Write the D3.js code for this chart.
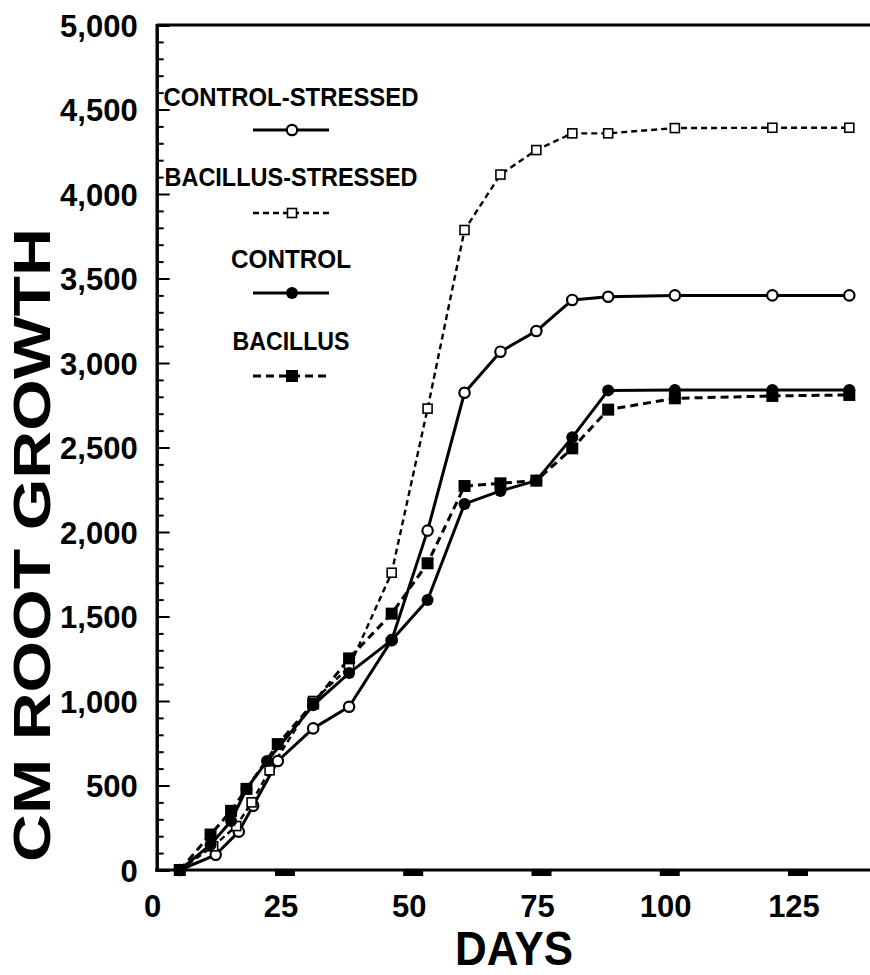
<!DOCTYPE html>
<html>
<head>
<meta charset="utf-8">
<script src="https://cdn.jsdelivr.net/npm/d3@7"></script>
<style>
  html, body { margin: 0; padding: 0; background: #fff; }
  svg text { font-family: "Liberation Sans", Arial, Helvetica, sans-serif; font-weight: bold; fill: #000; }
</style>
</head>
<body>
<svg id="chart" width="870" height="975"></svg>
<script>
// ---- data ----
const seriesNames = ["CONTROL-STRESSED", "BACILLUS-STRESSED", "CONTROL", "BACILLUS"];

const controlStressedDays = [4.5, 11.5, 16, 18.8, 23.6, 30.5, 37.5, 45.8, 52.8, 60, 67, 74, 81, 88, 101, 120, 135];
const controlStressedVals = [0, 90, 227, 380, 645, 838, 966, 1360, 2008, 2824, 3067, 3189, 3373, 3392, 3400, 3400, 3400];

const bacillusStressedDays = [4.5, 11, 15.5, 18.5, 22, 30.5, 37.5, 45.8, 52.8, 60, 67, 74, 81, 88, 101, 120, 135];
const bacillusStressedVals = [0, 140, 260, 400, 590, 1000, 1200, 1759, 2730, 3787, 4115, 4260, 4359, 4359, 4390, 4392, 4392];

const controlDays = [4.5, 10.5, 14.5, 17.5, 21.5, 30.5, 37.5, 45.8, 52.8, 60, 67, 74, 81, 88, 101, 120, 135];
const controlVals = [0, 150, 290, 480, 645, 975, 1165, 1360, 1598, 2166, 2243, 2304, 2560, 2838, 2840, 2840, 2840];

const bacillusDays = [4.5, 10.5, 14.5, 17.5, 23.6, 30.5, 37.5, 45.8, 52.8, 60, 67, 74, 81, 88, 101, 120, 135];
const bacillusVals = [0, 210, 350, 480, 745, 985, 1252, 1517, 1815, 2272, 2288, 2304, 2495, 2724, 2791, 2805, 2811];

const xTickValues = [0, 25, 50, 75, 100, 125];
const yMajorTicks = [0, 500, 1000, 1500, 2000, 2500, 3000, 3500, 4000, 4500, 5000];

// ---- setup ----
const svg = d3.select("#chart");
const x = d3.scaleLinear().domain([0, 125]).range([156.7, 798]);
const y = d3.scaleLinear().domain([0, 5000]).range([870, 25]);
const xRight = 870;

const series = [
  {name: seriesNames[0], days: controlStressedDays, vals: controlStressedVals, dash: null, width: 3, marker: "openCircle"},
  {name: seriesNames[1], days: bacillusStressedDays, vals: bacillusStressedVals, dash: "6,4", width: 2.4, marker: "openSquare"},
  {name: seriesNames[2], days: controlDays, vals: controlVals, dash: null, width: 3, marker: "filledCircle"},
  {name: seriesNames[3], days: bacillusDays, vals: bacillusVals, dash: "8,5", width: 3, marker: "filledSquare"}
];

function drawMarker(g, type, cx, cy) {
  if (type === "openCircle") {
    g.append("circle").attr("cx", cx).attr("cy", cy).attr("r", 5.2)
      .attr("fill", "#fff").attr("stroke", "#000").attr("stroke-width", 2.2);
  } else if (type === "filledCircle") {
    g.append("circle").attr("cx", cx).attr("cy", cy).attr("r", 6)
      .attr("fill", "#000");
  } else if (type === "openSquare") {
    g.append("rect").attr("x", cx - 4.5).attr("y", cy - 4.5).attr("width", 9).attr("height", 9)
      .attr("fill", "#fff").attr("stroke", "#000").attr("stroke-width", 1.6);
  } else if (type === "filledSquare") {
    g.append("rect").attr("x", cx - 6).attr("y", cy - 6).attr("width", 12).attr("height", 12)
      .attr("fill", "#000");
  }
}

// ---- frame lines ----
svg.append("line").attr("x1", x(0)).attr("x2", xRight).attr("y1", y(5000)).attr("y2", y(5000))
  .attr("stroke", "#000").attr("stroke-width", 3);
svg.append("line").attr("x1", x(0) - 1.5).attr("x2", xRight).attr("y1", y(0)).attr("y2", y(0))
  .attr("stroke", "#000").attr("stroke-width", 3);

// ---- y axis ----
const yMinor = d3.range(0, 5001, 100).filter(v => v % 500 !== 0);
const yAxisMinor = svg.append("g").attr("transform", `translate(${x(0)},0)`)
  .call(d3.axisLeft(y).tickValues(yMinor).tickSize(-7).tickFormat(""));
const yAxisMajor = svg.append("g").attr("transform", `translate(${x(0)},0)`)
  .call(d3.axisLeft(y).tickValues(yMajorTicks).tickSize(-13).tickPadding(19).tickFormat(d3.format(",")));
[yAxisMinor, yAxisMajor].forEach(g => {
  g.selectAll(".domain").attr("stroke", "#000").attr("stroke-width", 3);
  g.selectAll(".tick line").attr("stroke", "#000").attr("stroke-width", 2);
});
yAxisMajor.selectAll(".tick text")
  .style("font-size", "31px").style("font-family", "'Liberation Sans', Arial, sans-serif")
  .style("font-weight", "bold").attr("fill", "#000").attr("dy", "0.36em");

// ---- x axis ticks (short thick bars below the axis) and labels ----
svg.append("g").selectAll("rect").data(xTickValues.filter(d => d > 0)).join("rect")
  .attr("x", d => x(d) - 10).attr("y", y(0) + 1).attr("width", 20).attr("height", 5).attr("fill", "#000");
svg.append("g").selectAll("text").data(xTickValues).join("text")
  .attr("x", d => x(d) - 4).attr("y", 917).attr("text-anchor", "middle")
  .style("font-size", "31px").text(d => d);

// ---- axis titles ----
svg.append("text").attr("x", 514).attr("y", 965).attr("text-anchor", "middle")
  .attr("textLength", 118).attr("lengthAdjust", "spacingAndGlyphs")
  .style("font-size", "49px").text("DAYS");
svg.append("text").attr("transform", "translate(50,545) rotate(-90)").attr("text-anchor", "middle")
  .attr("textLength", 634).attr("lengthAdjust", "spacingAndGlyphs")
  .style("font-size", "52px").text("CM ROOT GROWTH");

// ---- series ----
const line = d3.line().x(d => x(d[0])).y(d => y(d[1]));
series.forEach(s => {
  const pts = s.days.map((d, i) => [d, s.vals[i]]);
  svg.append("path").datum(pts).attr("d", line).attr("fill", "none")
    .attr("stroke", "#000").attr("stroke-width", s.width)
    .attr("stroke-dasharray", s.dash).attr("stroke-linejoin", "round");
});
series.forEach(s => {
  const g = svg.append("g");
  s.days.forEach((d, i) => drawMarker(g, s.marker, x(d), y(s.vals[i])));
});

// ---- legend ----
const legendCx = 291;
const legendLabelY = [106, 186, 268, 350];
const legendLineY = [130, 213, 293, 376];
const legendLabelW = [255, 253, 120, 117];
series.forEach((s, i) => {
  svg.append("text").attr("x", legendCx).attr("y", legendLabelY[i]).attr("text-anchor", "middle")
    .attr("textLength", legendLabelW[i]).attr("lengthAdjust", "spacingAndGlyphs")
    .style("font-size", "25px").text(s.name);
  svg.append("line").attr("x1", legendCx - 38).attr("x2", legendCx + 38)
    .attr("y1", legendLineY[i]).attr("y2", legendLineY[i])
    .attr("stroke", "#000").attr("stroke-width", s.width).attr("stroke-dasharray", s.dash);
  const g = svg.append("g");
  drawMarker(g, s.marker, legendCx + 1, legendLineY[i]);
});
</script>
</body>
</html>
